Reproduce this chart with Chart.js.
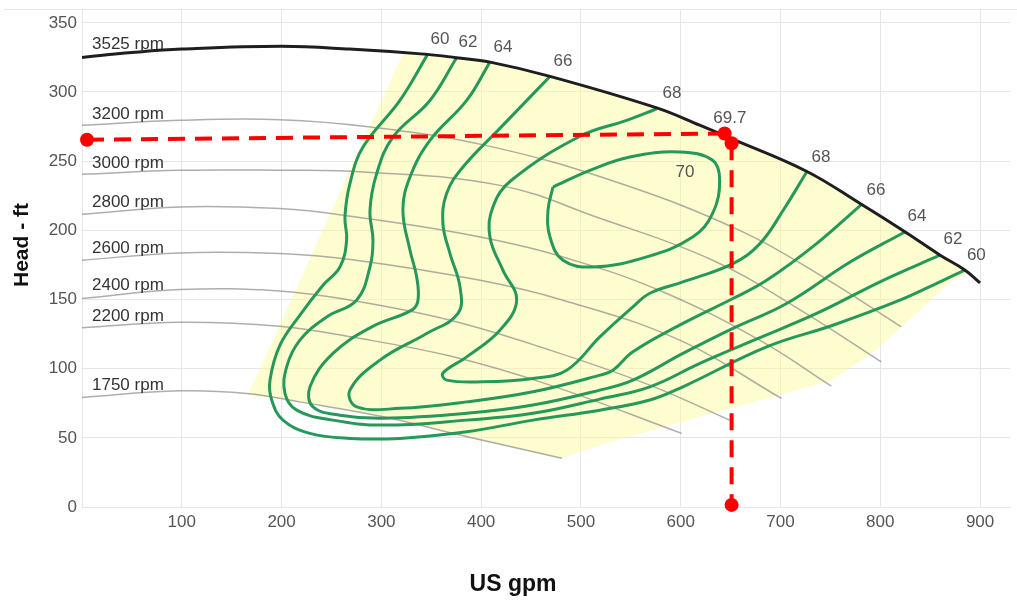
<!DOCTYPE html>
<html><head><meta charset="utf-8">
<script src="https://cdn.jsdelivr.net/npm/chart.js@4.4.1/dist/chart.umd.min.js"></script>
<style>html,body{margin:0;padding:0;background:#fff;overflow:hidden}</style>
</head><body>
<canvas id="c" width="1017" height="600"></canvas>
<script>
// ---- tick values ----
const xTicks = [0,100,200,300,400,500,600,700,800,900];
const yTicks = [0,50,100,150,200,250,300,350];

// ---- speed curves (US gpm, head ft) ----
const rpmNames = ['3525 rpm','3200 rpm','3000 rpm','2800 rpm','2600 rpm','2400 rpm','2200 rpm','1750 rpm'];
const rpm3525 = [[0,325],[50,328.5],[100,331],[200,333],[268,331],[346,327.2],[375,324.8],[409,321.6],[469,311.3],[576,288.5],[619,276],[649,266.8],[726,242.7],[781,218.8],[825,198.8],[860,182],[885,171.2],[900,162]];
const rpm3200 = [[0,275.9],[98,279.5],[198,280],[289,274.7],[409,260.7],[539,234],[659,200],[740,167.5],[821,130.2]];
const rpm3000 = [[0,240.5],[98,243.4],[198,243.4],[282,242.2],[419,232.5],[519,208.7],[632,178.4],[720,142.3],[801,104.9]];
const rpm2800 = [[0,211.6],[98,216.9],[198,215.7],[262,210.9],[399,195.2],[499,177],[586,154.3],[679,120.6],[751,87.4]];
const rpm2600 = [[0,178.4],[98,183.7],[198,183.2],[269,178.9],[399,163.9],[482,149.5],[599,120.6],[701,78.5]];
const rpm2400 = [[0,150.7],[98,157.2],[198,156.2],[269,149.5],[369,135],[469,113.4],[569,88.1],[649,62.8]];
const rpm2200 = [[0,129.5],[98,133.6],[198,130.7],[269,123],[369,109.1],[469,88.1],[601,53.2]];
const rpm1750 = [[0,79.2],[98,84],[165,82.1],[218,76],[302,65.2],[386,50.8],[481,35.2]];

// ---- efficiency contours (%) ----
const eff60 = [[346.4,327.2],[318.6,293.9],[281.6,260.2],[268.5,233.8],[263.5,209.7],[265.2,192.8],[258.5,173.5],[241.5,160.3],[218.4,138.7],[198.4,117],[188.4,91.7],[190.1,77.3],[201.4,62.8],[228.5,53.2],[268.5,49.6],[318.6,49.6],[385.5,54.4],[451.9,62.8],[519,70],[569.1,77.3],[602.2,86.9],[686.1,115.8],[752.5,131.4],[819.6,149.5],[863,163.9],[884.8,171.2]];
const eff62 = [[375.4,324.8],[348.7,293.9],[311.6,267.4],[295.3,241],[288.6,214.5],[291.6,192.8],[288.6,173.5],[275.2,149.5],[245.2,137.4],[218.4,120.6],[205.1,101.3],[203.4,82.1],[215.1,70],[251.5,62.8],[301.6,59.2],[385.5,62.8],[451.9,67.7],[519,78],[569.1,86.9],[619.2,103.8],[669.3,119.4],[736.2,139.9],[802.9,163.9],[859.7,182]];
const eff64 = [[408.8,321.6],[385.5,293.9],[348.7,265],[328.7,238.5],[321.6,214.5],[328.7,185.6],[335.4,166.3],[336.7,149.5],[330.4,142.3],[290.4,130.2],[251.5,111],[228.5,86.9],[231.5,72.4],[258.5,66.4],[301.6,64.1],[385.5,67.7],[451.9,73.7],[519,84.5],[552.1,91.7],[602.2,111],[652.3,129.1],[706.1,147.1],[769.4,176.9],[824.6,198.8]];
const eff66 = [[469,311.3],[418.8,273.7],[381.8,245.8],[365.4,226.6],[361.7,204.9],[368.7,183.4],[378.8,159.1],[376.8,139.9],[345.4,125.4],[298.6,106.2],[268.5,84.5],[275.2,72.4],[318.6,71.3],[385.5,76],[451.9,83.3],[519,95.3],[532.1,98.9],[552.1,112.2],[602.2,132.7],[652.3,150.7],[686.1,163.9],[736.2,190.4],[781.3,218.8]];
const eff68 = [[575.9,287.9],[545.8,279.5],[499,268],[430,236],[411.8,216.9],[408.8,195.2],[421.8,171.2],[435.6,149.5],[418.8,127.8],[385.5,108.5],[361.7,96.8],[365.4,91.7],[401.8,90.5],[451.9,92.9],[485.7,98.9],[519,123],[552.1,144.7],[569.1,154.5],[602.2,162.7],[652.3,176],[679.4,190.4],[702.7,214.5],[726.2,242.2]];
const eff70 = [[472,231.3],[509,243.4],[549,253],[599,256.6],[632,250.6],[639,236.2],[632,212.3],[612,195.2],[566,180.8],[512,173.5],[482,178.4],[469,195.2],[467,214.5],[472,231.3]];

// ---- operating range (shaded) ----
const rangeArea = [[321.6,327.9],[346.4,327.2],[375.4,324.8],[408.8,321.6],[469,311.3],[576,288.5],[619,276],[649,266.8],[726,242.7],[781,218.8],[825,198.8],[860,182],[885,171.2],[888.2,169.8],[869.7,162.5],[839.7,142.3],[795.6,113.4],[751.5,91.7],[698.4,80.9],[618.6,65],[519,44.8],[480.7,35.2],[385.5,50.8],[301.6,65.2],[218.4,76],[166.3,80.9],[321.6,327.9]];

// ---- duty point guide lines ----
const dutyHead = [[5,265.5],[644,270]];
const dutyFlow = [[651,263],[651,1.5]];

// ---- efficiency labels ----
const effText = ['60','62','64','66','68','69.7','70','68','66','64','62','60'];
const effX = [358.7,386.8,421.8,482,591.2,649.3,604.2,740.5,795.6,836.7,872.8,896.3];
const effY = [338,335.8,332.6,322.1,299,281.3,242.3,253.1,228.9,209.8,193.2,182];

const FONT = '"Liberation Sans", Arial, sans-serif';
const pts = a => a.map(p => ({x:p[0], y:p[1]}));
const rpmSeries = [rpm3525,rpm3200,rpm3000,rpm2800,rpm2600,rpm2400,rpm2200,rpm1750];

function interp(s, xv){
  for (let i=1;i<s.length;i++){
    if (s[i][0] >= xv){ const t=(xv-s[i-1][0])/(s[i][0]-s[i-1][0]); return s[i-1][1]+t*(s[i][1]-s[i-1][1]); }
  }
  return s[s.length-1][1];
}

const datasets = [];
datasets.push({data:pts(rangeArea), showLine:true, fill:'shape', backgroundColor:'rgba(252,250,150,0.45)', borderWidth:0, pointRadius:0, tension:0, order:20});
rpmSeries.slice(1).forEach(s => datasets.push({data:pts(s), showLine:true, borderColor:'rgba(120,120,120,0.6)', borderWidth:1.5, pointRadius:0, tension:0.4, order:15}));
[eff60,eff62,eff64,eff66,eff68,eff70].forEach(s => datasets.push({data:pts(s), showLine:true, borderColor:'#26985a', borderWidth:3, pointRadius:0, tension:0.4, order:10}));
datasets.push({data:pts(rpm3525), showLine:true, borderColor:'#1e1e1e', borderWidth:3, pointRadius:0, tension:0.4, order:5});
[dutyHead,dutyFlow].forEach(s => datasets.push({data:pts(s), showLine:true, borderColor:'#ff0000', borderWidth:4, borderDash:[17,10], pointRadius:7, pointBackgroundColor:'#ff0000', pointBorderWidth:0, tension:0, clip:false, order:1}));

const textPlugin = {
  id:'texts',
  beforeDatasetsDraw(chart){
    const {ctx, chartArea} = chart;
    ctx.save();
    ctx.strokeStyle = '#e6e6e6'; ctx.lineWidth = 1;
    ctx.beginPath(); ctx.moveTo(4, chartArea.top+0.5); ctx.lineTo(1017, chartArea.top+0.5); ctx.stroke();
    ctx.restore();
  },
  afterDatasetsDraw(chart){
    const {ctx, scales:{x,y}} = chart;
    ctx.save();
    ctx.font = '17px ' + FONT;
    ctx.fillStyle = '#333';
    ctx.textAlign = 'left'; ctx.textBaseline = 'alphabetic';
    rpmSeries.forEach((s,i) => {
      ctx.fillText(rpmNames[i], x.getPixelForValue(10), y.getPixelForValue(interp(s,48)) - 4);
    });
    ctx.fillStyle = '#555';
    ctx.textAlign = 'center'; ctx.textBaseline = 'middle';
    effText.forEach((t,i) => ctx.fillText(t, x.getPixelForValue(effX[i]), y.getPixelForValue(effY[i])));
    ctx.fillStyle = '#111';
    ctx.font = 'bold 23px ' + FONT;
    ctx.fillText('US gpm', 513, 585);
    ctx.translate(22, 245); ctx.rotate(-Math.PI/2);
    ctx.font = 'bold 21px ' + FONT;
    ctx.fillText('Head - ft', 0, 0);
    ctx.restore();
  }
};

new Chart(document.getElementById('c'), {
  type:'scatter',
  data:{datasets},
  options:{
    responsive:false, animation:false, devicePixelRatio:1,
    layout:{padding:{top:9,left:0,right:0,bottom:0}},
    plugins:{legend:{display:false}, tooltip:{enabled:false}},
    scales:{
      x:{type:'linear', min:0, max:930,
        afterBuildTicks:s => { s.ticks = xTicks.map(v => ({value:v})); },
        afterFit:s => { s.height = 93; s.paddingLeft = 0; s.paddingRight = 0; },
        grid:{color:'#e6e6e6', drawTicks:false},
        border:{display:true, color:'#e6e6e6'},
        ticks:{padding:5, color:'#555', autoSkip:false, maxRotation:0, font:{size:17, family:FONT}, callback:v => v === 0 ? '' : v}
      },
      y:{type:'linear', min:0, max:360,
        afterBuildTicks:s => { s.ticks = yTicks.map(v => ({value:v})); },
        afterFit:s => { s.width = 82; s.paddingTop = 0; s.paddingBottom = 0; },
        grid:{color:'#e6e6e6', drawTicks:false},
        border:{display:true, color:'#e6e6e6'},
        ticks:{padding:5, color:'#555', autoSkip:false, font:{size:17, family:FONT}, callback:v => v}
      }
    }
  },
  plugins:[textPlugin]
});
</script>
</body></html>
